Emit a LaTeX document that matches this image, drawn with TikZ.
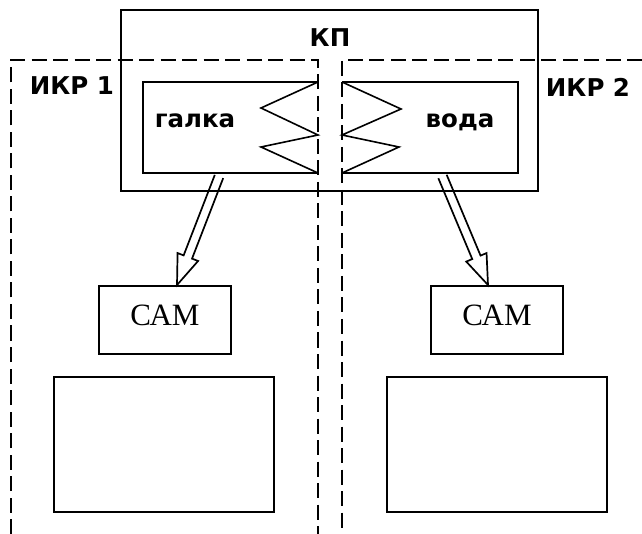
\documentclass[tikz,border=0pt]{standalone}
\usepackage{fontspec}
\setmainfont{Liberation Serif}
\newfontfamily\labfont{DejaVu Sans}
\usetikzlibrary{calc}
\begin{document}
\begin{tikzpicture}[x=1pt,y=-1pt,line width=1.8pt,line join=miter,
  box/.style={draw,line width=2pt,inner sep=0pt},
  lab/.style={font=\labfont\bfseries\fontsize{24.5}{28}\selectfont,inner sep=0pt},
  camtext/.style={font=\fontsize{31}{36}\selectfont,text depth=10pt},
  zone/.style={line width=1.7pt,dash pattern=on 15pt off 6.5pt},
  hollow/.style={draw,line width=1.7pt}]
\useasboundingbox (0,0) rectangle (642,534);
% zones
\draw[zone] (11,534) -- (11,60) -- (318,60) -- (318,534);
\draw[zone] (642,60) -- (342,60) -- (342,534);
% conflicting pair box
\node[box,minimum width=417pt,minimum height=181pt] (kp) at (329.5,100.5) {};
\node[lab,anchor=base] (kplab) at (330,47) {КП};
\node[lab,anchor=base] (ikr1) at (72,95) {ИКР 1};
\node[lab,anchor=base] (ikr2) at (588,96.5) {ИКР 2};
% inner halves
\draw[line width=2pt] (318,82) -- (143,82) -- (143,173) -- (318,173);
\draw[line width=2pt] (342,82) -- (518,82) -- (518,173) -- (342,173);
\draw[line width=1.6pt] (318,82) -- (261,108) -- (318,135) -- (261,147) -- (318,173);
\draw[line width=1.6pt] (342,82) -- (401,109) -- (342,135) -- (399,147) -- (342,173);
\draw[line width=2.6pt] (261,173) -- (318,173);
\draw[line width=2.6pt] (342,173) -- (401,173);
\node[lab,anchor=base] (galka) at (195,128) {галка};
\node[lab,anchor=base] (voda) at (460,128) {вода};
% CAM boxes
\node[box,camtext,minimum width=132pt,minimum height=68pt] (cam1) at (165,320) {САМ};
\node[box,camtext,minimum width=132pt,minimum height=68pt] (cam2) at (497,320) {САМ};
% lower boxes
\node[box,minimum width=220pt,minimum height=135pt] (res1) at (164,444.5) {};
\node[box,minimum width=220pt,minimum height=135pt] (res2) at (497,444.5) {};
% hollow arrows
\coordinate (t1) at (219,176.5);
\coordinate (p1) at (cam1.north -| 177,0);
\coordinate (t2) at (442.5,176.5);
\coordinate (p2) at (cam2.north -| 488,0);
\foreach \t/\p in {t1/p1,t2/p2}{
  \coordinate (b) at ($(\p)!30pt!(\t)$);
  \draw[hollow] ($(\t)!4.5pt!90:(\p)$) -- ($(b)!4.5pt!90:(\p)$) -- ($(b)!11pt!90:(\p)$)
     -- (\p) -- ($(b)!11pt!-90:(\p)$) -- ($(b)!4.5pt!-90:(\p)$) -- ($(\t)!4.5pt!-90:(\p)$);
}
\end{tikzpicture}
\end{document}
